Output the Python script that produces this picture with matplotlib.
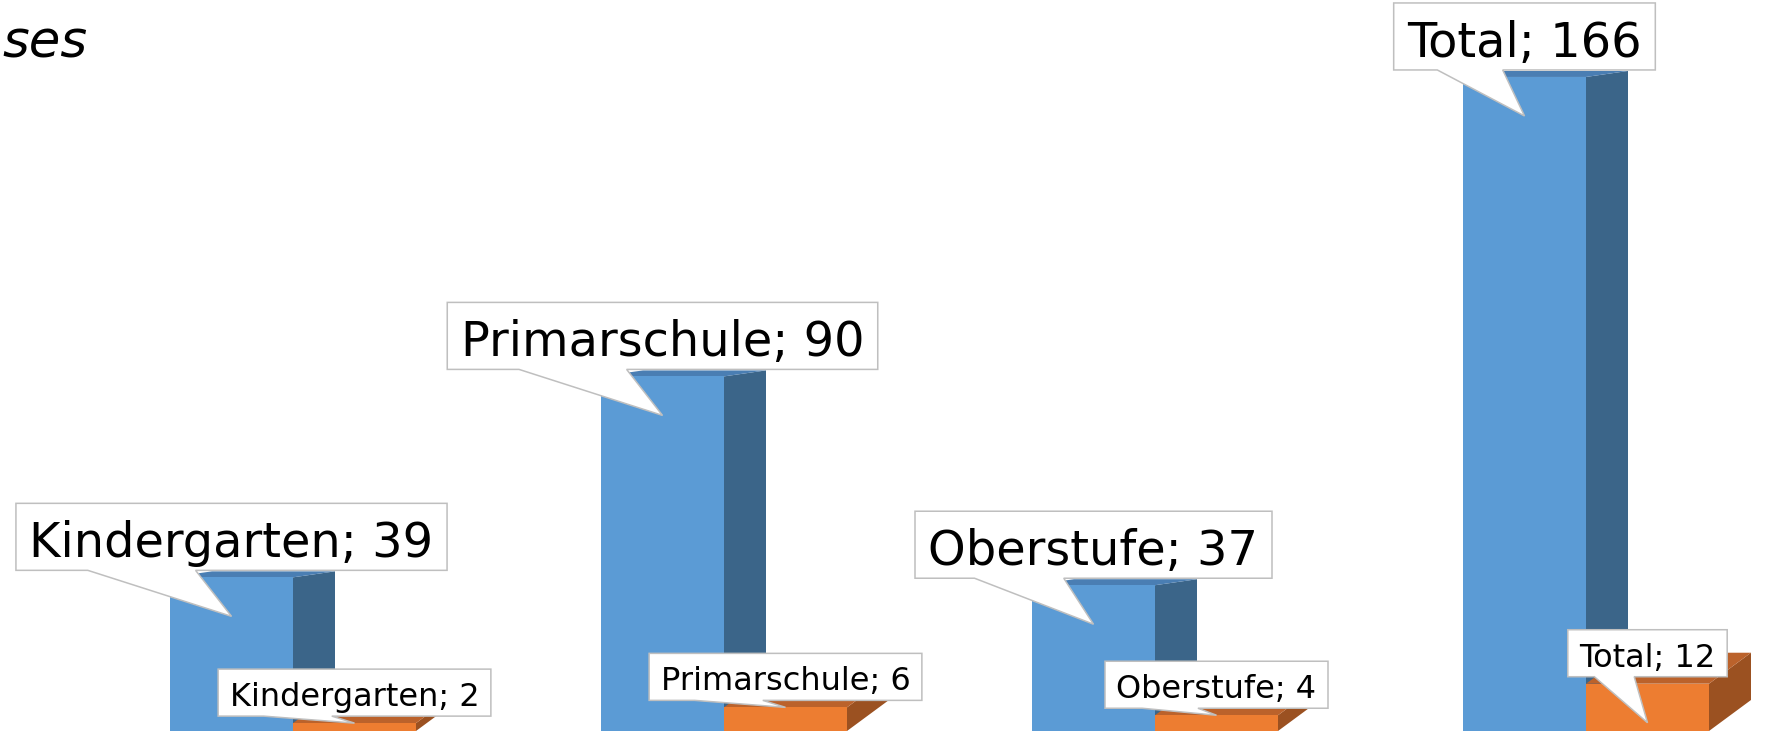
import matplotlib
matplotlib.use("Agg")
import matplotlib.pyplot as plt
from matplotlib.patches import Polygon

# ---- data -------------------------------------------------------------
categories = ["Kindergarten", "Primarschule", "Oberstufe", "Total"]
series_a = [39, 90, 37, 166]   # blue, front-left column
series_b = [2, 6, 4, 12]       # orange, right column
title_tail = "ses"             # only the tail of the clipped title is visible

# ---- look -------------------------------------------------------------
W, H, DPI = 1768, 732, 100
PX_PER_CAT = 431.0        # horizontal pixels between groups
PX_PER_UNIT = 3.94        # vertical pixels per value unit
BAR_W = 123 / PX_PER_CAT  # bar width in category units
LEFT_PAD = 170            # px from left edge to first blue column
BASE_PX = 731             # baseline, px from top

BLUE = dict(front="#5b9bd5", top="#4a7eb3", side="#3b6589", dx=42, dy=6)
ORANGE = dict(front="#ed7d31", top="#bb622b", side="#9b5121", dx=42, dy=31)

fig = plt.figure(figsize=(W / DPI, H / DPI), dpi=DPI)
ax = fig.add_axes([0, 0, 1, 1])
ax.set_axis_off()
x_left = -BAR_W - LEFT_PAD / PX_PER_CAT
ax.set_xlim(x_left, x_left + W / PX_PER_CAT)
ax.set_ylim(-(H - BASE_PX) / PX_PER_UNIT, BASE_PX / PX_PER_UNIT)


def draw_box(x0, v, style):
    dx = style["dx"] / PX_PER_CAT
    dy = style["dy"] / PX_PER_UNIT
    side = [(x0 + BAR_W, 0), (x0 + BAR_W + dx, dy),
            (x0 + BAR_W + dx, v + dy), (x0 + BAR_W, v)]
    top = [(x0, v), (x0 + BAR_W, v), (x0 + BAR_W + dx, v + dy), (x0 + dx, v + dy)]
    ax.add_patch(Polygon(side, closed=True, fc=style["side"], ec="none", zorder=2))
    ax.add_patch(Polygon(top, closed=True, fc=style["top"], ec="none", zorder=2))
    ax.bar(x0, v, width=BAR_W, align="edge", color=style["front"],
           edgecolor="none", zorder=3)


for i in range(len(categories)):
    draw_box(i - BAR_W, series_a[i], BLUE)
    draw_box(i, series_b[i], ORANGE)

renderer = fig.canvas.get_renderer()


def callout(cx, v, text, size, pad, height, base_off, tip_drop):
    """Excel-style wedge rectangle callout, built in display pixels."""
    px, py = ax.transData.transform((cx, v))
    t = ax.text(0, 0, text, fontsize=size, family="DejaVu Sans",
                ha="center", va="baseline", transform=None, zorder=6)
    tw = t.get_window_extent(renderer).width
    w = tw + 2 * pad
    L, R = px - w / 2, px + w / 2
    B = py + 7
    T = B + height
    t.set_position((px, B + base_off))
    bar_px = v * PX_PER_UNIT
    ty = py - tip_drop if bar_px > tip_drop + 2 else py
    pts = [(L, B), (L + w / 6, B), (px, ty), (L + 5 * w / 12, B),
           (R, B), (R, T), (L, T)]
    ax.add_patch(Polygon(pts, closed=True, fc="white", ec="#bfbfbf",
                         lw=1.1, transform=None, zorder=5))


for i, name in enumerate(categories):
    callout(i - BAR_W / 2, series_a[i], f"{name}; {series_a[i]}",
            34.5, 13.5, 67, 13, 39)
for i, name in enumerate(categories):
    callout(i + BAR_W / 2, series_b[i], f"{name}; {series_b[i]}",
            23, 11.5, 47, 10, 39)

fig.text(2 / W, 1 - 58 / H, title_tail, fontsize=37, style="italic",
         family="DejaVu Sans", ha="left", va="baseline")

fig.savefig("out.png", dpi=DPI)
